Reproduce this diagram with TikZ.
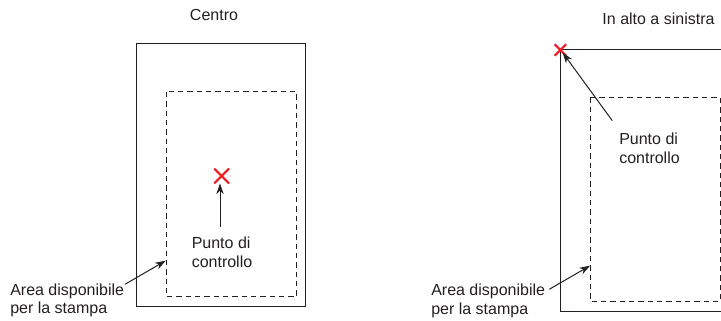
\documentclass[tikz,border=0pt]{standalone}
\usepackage{fontspec}
\setmainfont{Liberation Sans}
\usetikzlibrary{arrows.meta,shapes.misc}
\definecolor{ink}{HTML}{231F20}
\definecolor{mark}{HTML}{ED1C24}
\begin{document}
\begin{tikzpicture}[x=0.75pt,y=-0.75pt,
  lbl/.style={inner sep=0pt,align=left,text=ink,font=\fontsize{12pt}{13.9pt}\selectfont},
  ttl/.style={inner sep=0pt,text=ink,font=\fontsize{12pt}{13.9pt}\selectfont},
  page/.style={draw=ink,line width=0.9pt},
  area/.style={draw=ink,line width=0.75pt,dash pattern=on 4pt off 3pt},
  ctrl/.style={cross out,draw=mark,line width=1.6pt,inner sep=0pt},
  ptr/.style={draw=ink,line width=0.75pt,-{Stealth[length=8pt,width=5.5pt]}}]
\useasboundingbox (0,0) rectangle (721,321);
\clip (0,0) rectangle (721,321);
% ---- left panel: Centro
\node[ttl,anchor=base] (t1) at (214,20.5) {Centro};
\draw[page] (136.7,43.7) rectangle (305.3,306.7);
\draw[area] (166.3,92) rectangle (296.7,296.7);
\node[ctrl,minimum size=9.5pt] (x1) at (221.7,176) {};
\node[lbl,anchor=north west] (p1) at (191.5,237) {Punto di\\controllo};
\coordinate (p1s) at (220,227);
\draw[ptr] (p1s) -- (220,183.5);
\node[lbl,anchor=north west] (a1) at (10,283.5) {Area disponibile\\per la stampa};
\coordinate (a1s) at (125,284.3);
\coordinate (a1e) at (165.7,260.7);
\draw[ptr] (a1s) -- (a1e);
% ---- right panel: In alto a sinistra
\node[ttl,anchor=base] (t2) at (658.5,24.5) {In alto a sinistra};
\draw[page] (560.3,49.3) rectangle (760,311.7);
\draw[area] (590.7,97.3) rectangle (720,301.7);
\node[ctrl,minimum size=7pt] (x2) at (560.3,50) {};
\node[lbl,anchor=north west] (p2) at (619,133) {Punto di\\controllo};
\coordinate (p2s) at (612.3,120.7);
\coordinate (p2e) at (562.7,52.7);
\draw[ptr] (p2s) -- (p2e);
\node[lbl,anchor=north west] (a2) at (431,284) {Area disponibile\\per la stampa};
\coordinate (a2s) at (549.3,289.3);
\coordinate (a2e) at (590,265.7);
\draw[ptr] (a2s) -- (a2e);
\end{tikzpicture}
\end{document}
